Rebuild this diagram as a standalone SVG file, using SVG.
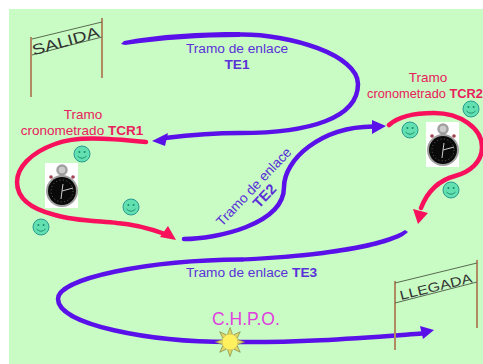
<svg xmlns="http://www.w3.org/2000/svg" width="483" height="364" viewBox="0 0 483 364">
<defs>
<style>
text{font-family:"Liberation Sans",Arial,sans-serif}
.blue{fill:none;stroke:#5a10e8;stroke-width:4.5;stroke-linecap:round}
.red{fill:none;stroke:#f8105c;stroke-width:4.5;stroke-linecap:round}
.bh{fill:#5a10e8}.rh{fill:#f8105c}
.tb{fill:#5a30d8;font-size:13.700px}
.tr{fill:#e8205c;font-size:13.500px}
.sign{fill:#333}
.post{stroke:#b08a60;stroke-width:2;fill:none}
.rope{stroke:#5a6a50;stroke-width:1;fill:none}
.face{fill:#62e0b0;stroke:#2a9a90;stroke-width:1}
.eye{fill:#1a8a70}
.mouth{fill:none;stroke:#1a8a70;stroke-width:.9}
</style>
<g id="smile"><circle class="face" r="8"/><circle class="eye" cx="-2.6" cy="-2" r="1"/><circle class="eye" cx="2.6" cy="-2" r="1"/><path class="mouth" d="M-4.5 2Q0 6.5 4.5 2"/></g>
<g id="watch"><rect x="-17" y="-28" width="33" height="45" fill="#fff"/><circle cy="-21" r="4.500" fill="#ccc" stroke="#a0a0a0" stroke-width="2.500"/><rect x="-2" y="-17" width="4" height="4" fill="#999"/><circle cx="-11" cy="-14" r="1.800" fill="#a04050"/><circle cx="11" cy="-14" r="1.800" fill="#a04050"/><circle r="16" fill="#a0a0a0"/><circle r="14" fill="#0a0a0a"/><circle r="11" fill="none" stroke="#666" stroke-width="1" stroke-dasharray="1 2.500"/><path d="M0 0L11-3M0 0L-1 8M0 0L1-7" stroke="#ccc" stroke-width="1" fill="none"/></g>
<path id="ray" d="M-2.500-7.500L0-14.500L2.500-7.500Z" fill="#e0d860" stroke="#8a8a50" stroke-width=".7"/>
</defs>
<rect width="483" height="364" fill="#fff"/>
<rect x="9" y="9" width="474" height="355" fill="#c8fcc4"/>
<g id="connectors">
<path class="bh" d="M121 44L124 41C160 34 200 32 240 32L240 37C200 37 160 40 125 45Z"/>
<path class="blue" d="M240 34.500C290 34 358 55 358 84C358 118 310 133 240 133C215 133 190 135 165 138"/>
<path class="bh" d="M152 141L168 133L165 146Z"/>
<path class="red" d="M146 142C105 138 75 136 55 144C30 153 17 168 17 182C17 200 35 210 55 215C75 221 100 221 117 223C132 224 148 228 165 234"/>
<path class="rh" d="M176 240L168 226L160 237Z"/>
<path class="blue" d="M184 239C215 239 284 225 284 187C284 160 320 127 373 126.500"/>
<path class="bh" d="M386 126L372 120L372 134Z"/>
<path class="red" d="M389 125C400 115 420 113 434 113C460 113 482 128 482 147C482 162 470 172 455 176C440 180 428 190 421 208"/>
<path class="rh" d="M418 224L413 209L428 213Z"/>
<path class="bh" d="M405 230L408 232C395 246 330 258 242 261.500L242 257.500C320 254 385 243 405 230Z"/>
<path class="blue" d="M242 259.500C150 260 58 278 58 299C58 325 150 342 230 342C300 343 360 338 422 333.500"/>
<path class="bh" d="M434 330L420 326L423 339Z"/>
</g>
<g id="salida"><path class="post" d="M31 37V97M102 18V78"/><path class="rope" d="M32 39L102 22M32 55L102 37"/><text class="sign" transform="translate(67 46) rotate(-16)" text-anchor="middle" font-size="15" textLength="69" lengthAdjust="spacingAndGlyphs">SALIDA</text></g>
<g id="llegada"><path class="post" d="M395 281V350M477 260V328"/><path class="rope" d="M395 283L477 263M395 303L477 282"/><text class="sign" transform="translate(437 291) rotate(-14)" text-anchor="middle" font-size="13" textLength="74" lengthAdjust="spacingAndGlyphs">LLEGADA</text></g>
<g id="sun" transform="translate(230 342)"><use href="#ray"/><use href="#ray" transform="rotate(45)"/><use href="#ray" transform="rotate(90)"/><use href="#ray" transform="rotate(135)"/><use href="#ray" transform="rotate(180)"/><use href="#ray" transform="rotate(225)"/><use href="#ray" transform="rotate(270)"/><use href="#ray" transform="rotate(315)"/><circle r="8" fill="#fff060" stroke="#c8c060" stroke-width=".6"/></g>
<g id="watch1"><use href="#watch" x="62" y="191"/></g>
<g id="watch2"><use href="#watch" x="443" y="150"/></g>
<g id="smileys"><use href="#smile" x="82" y="154"/><use href="#smile" x="131" y="207"/><use href="#smile" x="41" y="227"/><use href="#smile" x="410" y="130"/><use href="#smile" x="471" y="109"/><use href="#smile" x="451" y="190"/></g>
<g id="te1"><text class="tb" x="237" y="53" text-anchor="middle">Tramo de enlace</text><text class="tb" x="237" y="69" text-anchor="middle" font-weight="bold">TE1</text></g>
<g id="tcr1"><text class="tr" x="83" y="119" text-anchor="middle">Tramo</text><text class="tr" x="82" y="135" text-anchor="middle">cronometrado <tspan font-weight="bold">TCR1</tspan></text></g>
<g id="tcr2"><text class="tr" x="428" y="82" text-anchor="middle">Tramo</text><text class="tr" x="367" y="98" style="font-size:12.800px">cronometrado <tspan font-weight="bold">TCR2</tspan></text></g>
<g id="te2"><text class="tb" transform="translate(222 227) rotate(-46.500)">Tramo de enlace</text><text class="tb" font-weight="bold" transform="translate(259 209) rotate(-46.500)" style="font-size:14.500px">TE2</text></g>
<g id="te3"><text class="tb" x="186" y="277">Tramo de enlace <tspan font-weight="bold">TE3</tspan></text></g>
<text id="chpo" x="212" y="325" fill="#e040e0" font-size="17.500">C.H.P.O.</text>
</svg>
